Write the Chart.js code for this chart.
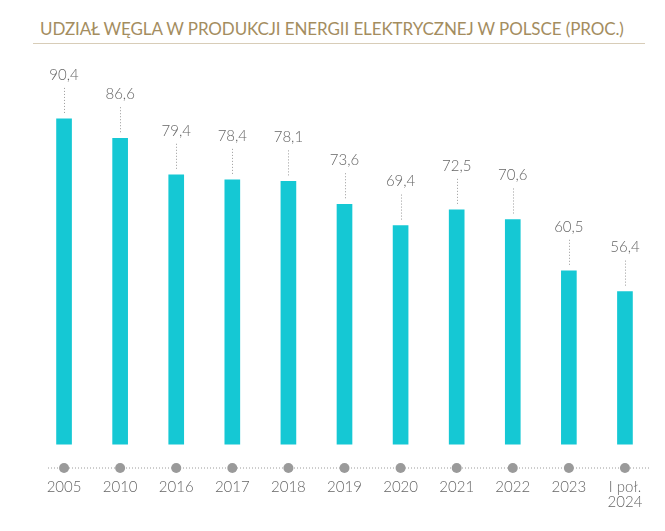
<!DOCTYPE html>
<html lang="pl">

<head>
  <meta charset="UTF-8">
  <title>Udział węgla</title>
  <script src="https://cdn.jsdelivr.net/npm/chart.js@4"></script>
</head>
<style>
  body { margin: 0; background: #fff; overflow: hidden; }
  #title {
    position: absolute; left: 40px; top: 18px;
    font-family: Lato, sans-serif; font-size: 17px; color: #a48d5f;
    letter-spacing: -0.1px; white-space: nowrap;
  }
  #rule { position: absolute; left: 33px; top: 43px; width: 612px; height: 1px; background: #d8cdb8; }
  #box { position: absolute; left: 0; top: 50px; width: 665px; height: 495px; }
</style>

<body>
  <div id="title">UDZIAŁ WĘGLA W PRODUKCJI ENERGII ELEKTRYCZNEJ W POLSCE (PROC.)</div>
  <div id="rule"></div>
  <div id="box"><canvas id="coal"></canvas></div>

  <script>
    const years = ["2005", "2010", "2016", "2017", "2018", "2019", "2020", "2021", "2022", "2023", ["I poł.", "2024"]];
    const share = [90.4, 86.6, 79.4, 78.4, 78.1, 73.6, 69.4, 72.5, 70.6, 60.5, 56.4];

    // value labels with dotted leaders, plus the dotted axis with dots
    const decor = {
      id: 'decor',
      afterDatasetsDraw(chart) {
        const ctx = chart.ctx;
        const area = chart.chartArea;
        const bars = chart.getDatasetMeta(0).data;
        ctx.save();
        ctx.strokeStyle = '#9a9a9a';
        ctx.lineWidth = 1;
        ctx.setLineDash([1, 2]);
        const axisY = area.bottom + 23.5;
        ctx.beginPath();
        ctx.moveTo(48, axisY);
        ctx.lineTo(651, axisY);
        ctx.stroke();
        bars.forEach((b, i) => {
          const x = Math.round(b.x) + 0.5;
          ctx.setLineDash([1, 2]);
          ctx.beginPath();
          ctx.moveTo(x, b.y - 31);
          ctx.lineTo(x, b.y - 6);
          ctx.stroke();
          ctx.setLineDash([]);
          ctx.fillStyle = '#666';
          ctx.font = '300 15px Lato, sans-serif';
          ctx.textAlign = 'center';
          ctx.textBaseline = 'middle';
          ctx.fillText(share[i].toFixed(1).replace('.', ','), b.x, b.y - 44);
          ctx.fillStyle = '#9a9a9a';
          ctx.beginPath();
          ctx.arc(b.x, axisY, 5, 0, Math.PI * 2);
          ctx.fill();
        });
        ctx.restore();
      }
    };

    new Chart('coal', {
      type: 'bar',
      data: {
        labels: years,
        datasets: [{
          data: share,
          backgroundColor: '#15c8d4',
          barThickness: 15
        }]
      },
      options: {
        responsive: true,
        maintainAspectRatio: false,
        animation: false,
        layout: { padding: { left: 36, right: 12, top: 10, bottom: 0 } },
        plugins: { legend: { display: false }, tooltip: { enabled: false } },
        scales: {
          x: {
            grid: { display: false, drawTicks: false },
            border: { display: false },
            afterFit(scale) {
              // labels may stick out a bit, don't shrink the plot for them
              scale.paddingLeft = 0;
              scale.paddingRight = 0;
            },
            ticks: {
              color: '#666',
              font: { family: 'Lato', size: 15, weight: 300, lineHeight: 0.95 },
              padding: 36,
              maxRotation: 0
            }
          },
          y: { display: false, min: 26.3, max: 102 }
        }
      },
      plugins: [decor]
    });
  </script>
</body>

</html>
